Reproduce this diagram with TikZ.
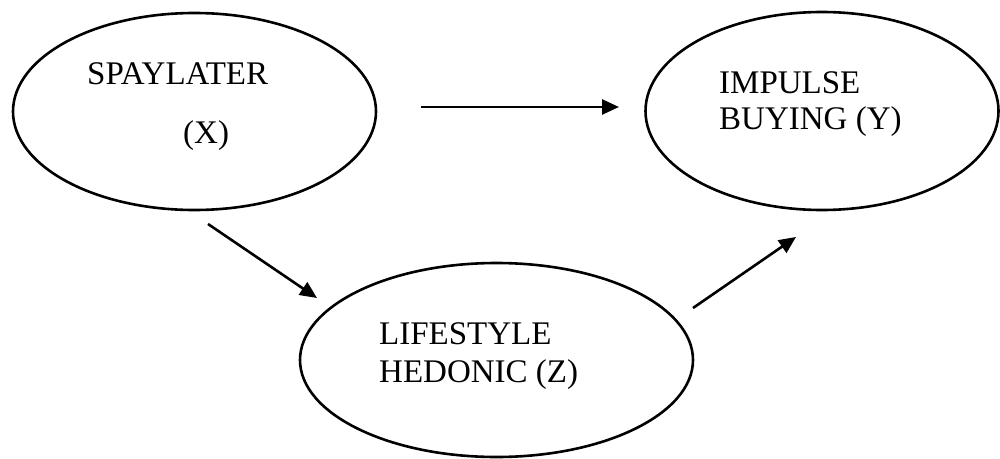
\documentclass[tikz,border=0pt]{standalone}
\usepackage{fontspec}
\setmainfont{Liberation Serif}
\usetikzlibrary{shapes.geometric,arrows.meta}
\begin{document}
\begin{tikzpicture}[x=1pt,y=-1pt,
  oval/.style={draw=black,line width=2.6pt,ellipse,inner sep=0pt,outer sep=0pt},
  lbl/.style={anchor=base west,inner sep=0pt,font=\fontsize{33}{38}\selectfont},
  arr/.style={line width=2.6pt,-{Triangle[length=17pt,width=15pt]}}]
\useasboundingbox (0,0) rectangle (1000,458);
\fill[white] (0,0) rectangle (1000,458);
\node[oval,minimum width=363pt,minimum height=197pt] (X) at (194.5,111.5) {};
\node[oval,minimum width=353pt,minimum height=198pt] (Y) at (822,111) {};
\node[oval,minimum width=393pt,minimum height=194pt] (Z) at (496.5,360) {};
\node[lbl] (tx1) at (87,84) {SPAYLATER};
\node[lbl] (tx2) at (183,143) {(X)};
\node[lbl] (ty1) at (719,93) {IMPULSE};
\node[lbl] (ty2) at (719,129) {BUYING (Y)};
\node[lbl] (tz1) at (379,344) {LIFESTYLE};
\node[lbl] (tz2) at (379,382) {HEDONIC (Z)};
\coordinate (xy1) at (421,107);
\coordinate (xy2) at (619,107);
\coordinate (xz1) at (208,224);
\coordinate (xz2) at (317,298);
\coordinate (zy1) at (693,308);
\coordinate (zy2) at (796,237);
\draw[arr] (xy1) -- (xy2);
\draw[arr] (xz1) -- (xz2);
\draw[arr] (zy1) -- (zy2);
\end{tikzpicture}
\end{document}
